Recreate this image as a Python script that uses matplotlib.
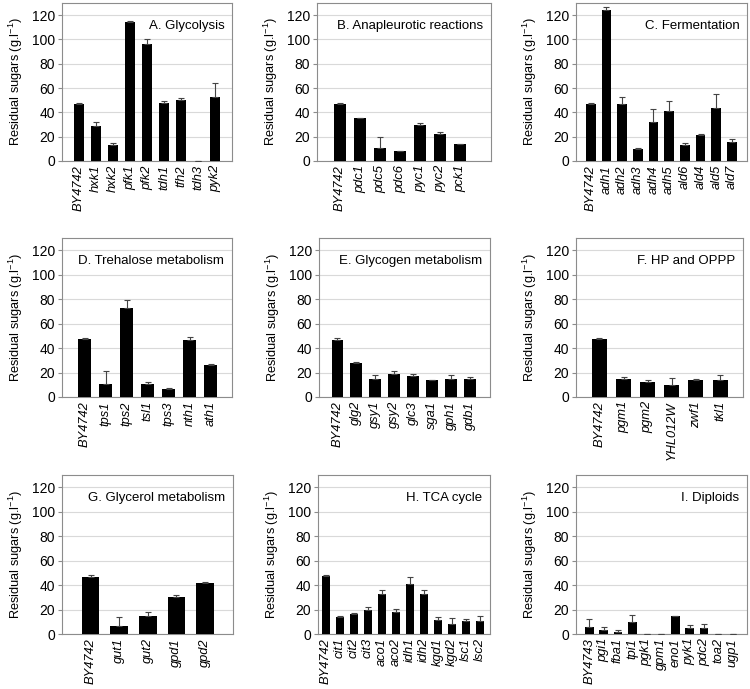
import matplotlib
matplotlib.use("Agg")
import matplotlib.pyplot as plt

plt.rcParams['font.family'] = ['Liberation Sans', 'DejaVu Sans']
plt.rcParams['mathtext.fontset'] = 'custom'
plt.rcParams['mathtext.rm'] = 'Liberation Sans'
plt.rcParams['mathtext.it'] = 'Liberation Sans:italic'

titles = ["A. Glycolysis", "B. Anapleurotic reactions", "C. Fermentation",
          "D. Trehalose metabolism", "E. Glycogen metabolism", "F. HP and OPPP",
          "G. Glycerol metabolism", "H. TCA cycle", "I. Diploids"]

genes_a = ["BY4742", "hxk1", "hxk2", "pfk1", "pfk2", "tdh1", "tfh2", "tdh3", "pyk2"]
vals_a = [47, 29, 13, 114.5, 96.5, 48, 50.5, 0, 52.5]
err_a = [1, 3, 2, 0.5, 4, 1, 1, 0, 12]

genes_b = ["BY4742", "pdc1", "pdc5", "pdc6", "pyc1", "pyc2", "pck1"]
vals_b = [47, 35, 11, 8, 30, 22, 14]
err_b = [1, 0.5, 9, 0.5, 1, 1.5, 0]

genes_c = ["BY4742", "adh1", "adh2", "adh3", "adh4", "adh5", "ald6", "ald4", "ald5", "ald7"]
vals_c = [47, 124.5, 47, 9.5, 32.5, 41.5, 13.5, 21, 43.5, 15.5]
err_c = [1, 2.5, 6, 1, 10, 7.5, 1, 1.5, 11.5, 3]

genes_d = ["BY4742", "tps1", "tps2", "tsl1", "tps3", "nth1", "ath1"]
vals_d = [47.5, 11, 73, 10.5, 6.5, 47, 26.5]
err_d = [0.5, 10.5, 6, 2, 0.5, 2, 0.5]

genes_e = ["BY4742", "glg2", "gsy1", "gsy2", "glc3", "sga1", "gph1", "gdb1"]
vals_e = [47, 27.5, 14.5, 18.5, 17, 13.5, 15, 15]
err_e = [1, 1.5, 3.5, 2.5, 2, 0.5, 3, 1.5]

genes_f = ["BY4742", "pgm1", "pgm2", "YHL012W", "zwf1", "tkl1"]
vals_f = [47.5, 14.5, 12, 10, 13.5, 14]
err_f = [0.5, 1.5, 2, 5.5, 1.5, 4]

genes_g = ["BY4742", "gut1", "gut2", "gpd1", "gpd2"]
vals_g = [47, 6.5, 14.5, 30.5, 42]
err_g = [1, 7, 3.5, 1, 0.5]

genes_h = ["BY4742", "cit1", "cit2", "cit3", "aco1", "aco2", "idh1", "idh2",
           "kgd1", "kgd2", "lsc1", "lsc2"]
vals_h = [47.5, 13.5, 16.5, 19.5, 32.5, 18, 41, 33, 11.5, 8.5, 10.5, 11]
err_h = [0.5, 1.5, 1, 2.5, 3.5, 2.5, 5.5, 3, 2, 4.5, 2, 3.5]

genes_i = ["BY4743", "pgi1", "fba1", "tpi1", "pgk1", "gpm1", "eno1", "pyk1",
           "pdc2", "toa2", "ugp1"]
vals_i = [6, 3, 2, 10, 0, 0, 14.5, 5, 5, 0, 0]
err_i = [6, 3, 1.5, 5.5, 0, 0, 0.5, 2.5, 3, 0, 0]

panels = [(genes_a, vals_a, err_a), (genes_b, vals_b, err_b), (genes_c, vals_c, err_c),
          (genes_d, vals_d, err_d), (genes_e, vals_e, err_e), (genes_f, vals_f, err_f),
          (genes_g, vals_g, err_g), (genes_h, vals_h, err_h), (genes_i, vals_i, err_i)]

W, H = 750, 689
fig = plt.figure(figsize=(W / 100, H / 100), dpi=100)

# pixel boxes: (left, right, top, bottom)
boxes = [(62, 232, 3, 161), (317, 491, 3, 161), (576, 747, 3, 161),
         (62, 232, 238, 397), (319, 490, 238, 397), (576, 743, 238, 397),
         (62, 233, 475, 634), (318, 490, 475, 634), (576, 747, 475, 634)]
# x padding (in category units) left / right of first / last bar
pads = [(1.0, 1.0), (1.15, 1.55), (0.94, 0.96),
        (1.08, 1.0), (0.97, 1.05), (0.97, 0.95),
        (1.0, 0.98), (0.57, 0.71), (0.93, 1.0)]

frame_col = '#8c8c8c'
grid_col = '#d9d9d9'

for (genes, vals, errs), (l, r, t, b), (pl, pr), title in zip(panels, boxes, pads, titles):
    ax = fig.add_axes([l / W, 1 - b / H, (r - l) / W, (b - t) / H])
    x = list(range(len(genes)))
    ax.bar(x, vals, width=0.62, color='black', zorder=3)
    ax.errorbar(x, vals, yerr=[[0] * len(errs), errs], fmt='none', ecolor='#444444',
                elinewidth=0.8, capsize=2, capthick=0.8, zorder=4)
    ax.set_ylim(0, 130)
    ax.set_xlim(-pl, len(genes) - 1 + pr)
    ax.set_yticks([0, 20, 40, 60, 80, 100, 120])
    ax.yaxis.grid(True, color=grid_col, linewidth=0.8, zorder=0)
    ax.set_axisbelow(True)
    ax.set_xticks(x)
    ax.set_xticklabels(genes, rotation=90, fontstyle='italic', fontsize=9.3)
    ax.tick_params(axis='x', length=0, pad=3)
    ax.tick_params(axis='y', length=3, color=frame_col, labelsize=10, pad=2)
    for s in ax.spines.values():
        s.set_color(frame_col)
        s.set_linewidth(0.8)
    ax.set_ylabel('Residual sugars (g.l$^{-1}$)', fontsize=9.2, labelpad=5)
    ax.text(0.955, 0.855, title, transform=ax.transAxes, ha='right', va='center',
            fontsize=9.5)

fig.savefig('out.png', dpi=100)
